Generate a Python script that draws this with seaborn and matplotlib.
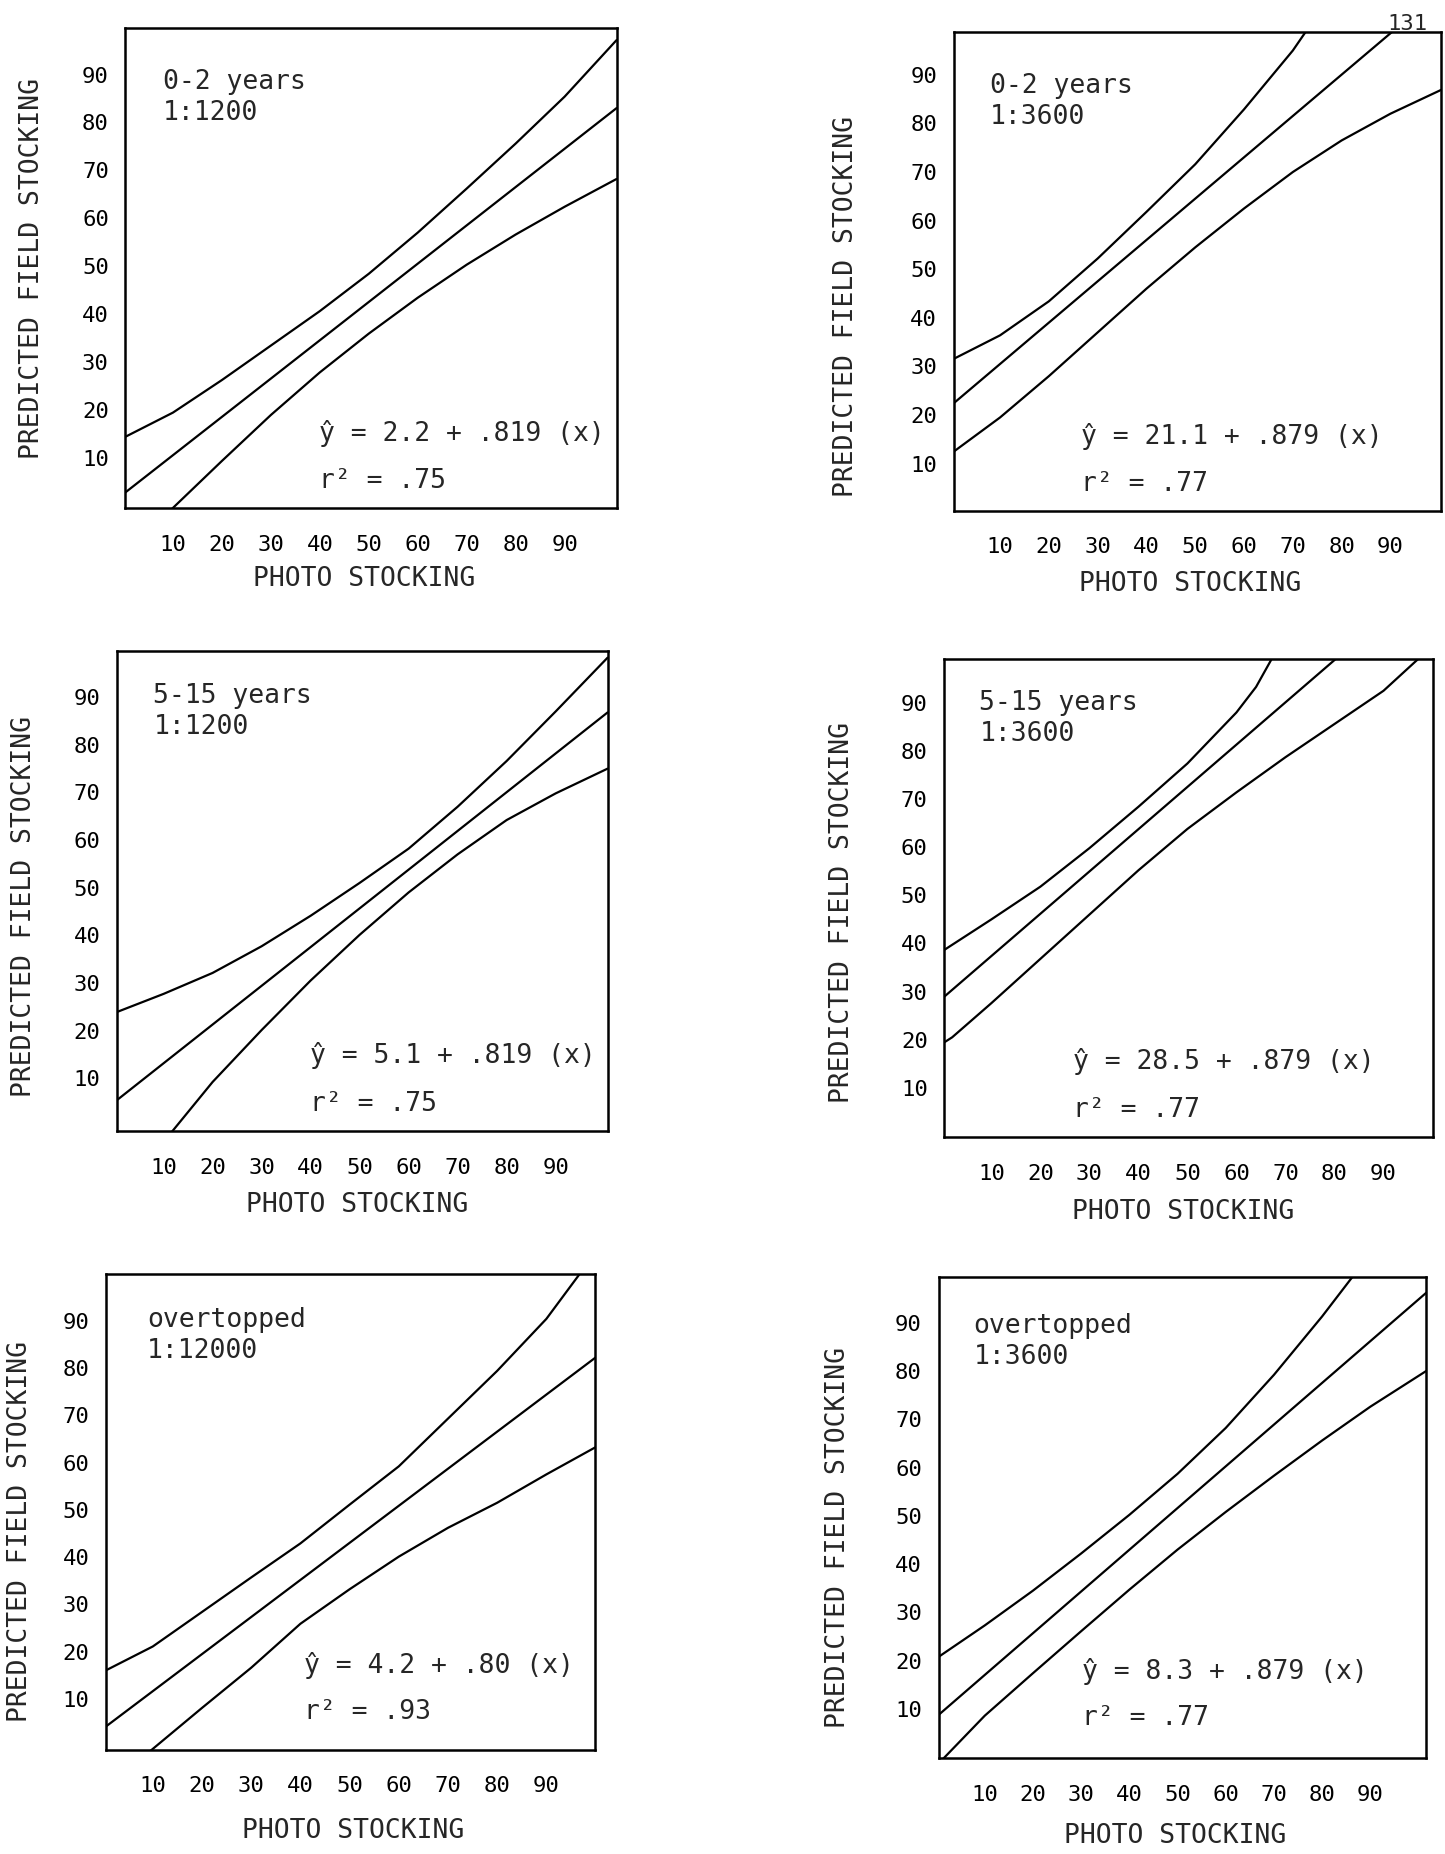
import matplotlib
matplotlib.use("Agg")
import matplotlib.pyplot as plt
import pandas as pd
import seaborn as sns

# panel texts, left to right then top to bottom
age_class = ['0-2 years', '0-2 years', '5-15 years', '5-15 years', 'overtopped', 'overtopped']
photo_scale = ['1:1200', '1:3600', '1:1200', '1:3600', '1:12000', '1:3600']
equation = ['2.2 + .819 (x)', '21.1 + .879 (x)', '5.1 + .819 (x)',
            '28.5 + .879 (x)', '4.2 + .80 (x)', '8.3 + .879 (x)']
r_squared = ['.75', '.77', '.75', '.77', '.93', '.77']
ticks = [10, 20, 30, 40, 50, 60, 70, 80, 90]

# curves (photo stocking -> predicted field stocking)
# 0-2 years, 1:1200
p1_up_x = [0, 10, 20, 30, 40, 50, 60, 70, 80, 90, 100.6]
p1_up_y = [14.2, 19.4, 26.2, 33.4, 40.6, 48.4, 57.0, 66.2, 75.6, 85.4, 97.2]
p1_fit_x = [0, 100.6]
p1_fit_y = [2.5, 83.0]
p1_lo_x = [9.5, 20, 30, 40, 50, 60, 70, 80, 90, 100.6]
p1_lo_y = [-1.0, 9.3, 18.9, 27.8, 35.9, 43.4, 50.3, 56.6, 62.4, 68.2]

# 0-2 years, 1:3600
p2_up_x = [0, 10, 20, 30, 40, 50, 60, 70, 72.6]
p2_up_y = [31.3, 36.4, 43.4, 52.2, 61.8, 71.6, 82.9, 95.0, 98.8]
p2_fit_x = [0, 90.3]
p2_fit_y = [22.0, 98.8]
p2_lo_x = [0, 10, 20, 30, 40, 50, 60, 70, 80, 90, 100.6]
p2_lo_y = [12.1, 19.5, 28.0, 37.0, 46.0, 54.5, 62.5, 70.0, 76.5, 82.0, 87.0]

# 5-15 years, 1:1200
p3_up_x = [0, 10, 20, 30, 40, 50, 60, 70, 80, 90, 100.6]
p3_up_y = [23.7, 27.7, 32.1, 37.7, 44.1, 51.0, 58.2, 67.0, 76.6, 87.0, 98.3]
p3_fit_x = [0, 100.6]
p3_fit_y = [5.0, 86.8]
p3_lo_x = [11.5, 20, 30, 40, 50, 60, 70, 80, 90, 100.6]
p3_lo_y = [-1.5, 9.2, 20.1, 30.5, 40.1, 49.0, 57.0, 64.2, 69.8, 75.0]

# 5-15 years, 1:3600
p4_up_x = [0, 10, 20, 30, 40, 50, 60, 64, 67.4]
p4_up_y = [38.4, 45.0, 51.8, 59.8, 68.4, 77.4, 88.0, 93.3, 99.5]
p4_fit_x = [0, 80.7]
p4_fit_y = [28.6, 99.5]
p4_lo_x = [0, 2, 10, 20, 30, 40, 50, 60, 70, 80, 90, 97.5]
p4_lo_y = [19.2, 20.5, 27.6, 36.8, 46.0, 55.2, 63.8, 71.4, 78.7, 85.6, 92.5, 99.5]

# overtopped, 1:12000
p5_up_x = [0, 10, 20, 30, 40, 50, 60, 70, 80, 90, 97.2]
p5_up_y = [15.8, 21.1, 28.4, 35.7, 42.9, 51.1, 59.2, 69.3, 79.4, 90.4, 100.5]
p5_fit_x = [0, 100.6]
p5_fit_y = [3.8, 82.7]
p5_lo_x = [9.5, 20, 30, 40, 50, 60, 70, 80, 90, 100.6]
p5_lo_y = [-1.0, 8.1, 16.6, 25.9, 33.2, 40.1, 46.2, 51.5, 57.5, 63.6]

# overtopped, 1:3600
p6_up_x = [0, 10, 20, 30, 40, 50, 60, 70, 80, 86.3]
p6_up_y = [20.5, 27.3, 34.5, 42.2, 50.2, 58.7, 68.2, 79.2, 91.3, 99.5]
p6_fit_x = [0, 101.6]
p6_fit_y = [8.4, 96.2]
p6_lo_x = [1.2, 10, 20, 30, 40, 50, 60, 70, 80, 90, 101.6]
p6_lo_y = [-0.5, 8.6, 17.4, 26.1, 34.7, 43.0, 50.8, 58.3, 65.6, 72.6, 80.0]

panel_curves = [
    [(p1_up_x, p1_up_y), (p1_fit_x, p1_fit_y), (p1_lo_x, p1_lo_y)],
    [(p2_up_x, p2_up_y), (p2_fit_x, p2_fit_y), (p2_lo_x, p2_lo_y)],
    [(p3_up_x, p3_up_y), (p3_fit_x, p3_fit_y), (p3_lo_x, p3_lo_y)],
    [(p4_up_x, p4_up_y), (p4_fit_x, p4_fit_y), (p4_lo_x, p4_lo_y)],
    [(p5_up_x, p5_up_y), (p5_fit_x, p5_fit_y), (p5_lo_x, p5_lo_y)],
    [(p6_up_x, p6_up_y), (p6_fit_x, p6_fit_y), (p6_lo_x, p6_lo_y)],
]

# axes extents of each scanned panel
x_left = [0.3, 0.5, 0.5, 0.4, 0.5, 0.4]
x_right = [100.7, 100.3, 100.7, 100.1, 99.9, 101.6]
y_top = [99.7, 98.8, 99.6, 99.2, 100.0, 99.5]
y_bottom = [-0.6, 0.3, -1.2, -0.3, -0.8, -0.2]

# layout (figure fractions) and text placement (axes fractions)
boxes = [
    (0.0868, 0.7258, 0.3402, 0.2590),
    (0.6600, 0.7245, 0.3370, 0.2582),
    (0.0810, 0.3897, 0.3398, 0.2589),
    (0.6535, 0.3865, 0.3382, 0.2583),
    (0.0734, 0.0561, 0.3384, 0.2570),
    (0.6495, 0.0517, 0.3375, 0.2596),
]
label_pos = [(0.077, 0.915), (0.075, 0.915), (0.074, 0.935), (0.072, 0.935), (0.084, 0.93), (0.072, 0.925)]
eq_pos = [(0.394, 0.14, 0.043), (0.262, 0.139, 0.042), (0.393, 0.143, 0.042),
          (0.264, 0.143, 0.042), (0.405, 0.162, 0.065), (0.294, 0.165, 0.069)]
xlabel_pos = [(0.486, -0.148), (0.485, -0.154), (0.488, -0.153),
              (0.488, -0.156), (0.505, -0.169), (0.486, -0.162)]
ylabel_pos = [(-0.19, 0.5), (-0.222, 0.427), (-0.19, 0.468),
              (-0.21, 0.469), (-0.176, 0.459), (-0.207, 0.459)]

sns.set_style('white')
plt.rcParams['font.family'] = ['DejaVu Sans Mono', 'DejaVu Sans']

fig = plt.figure(figsize=(14.45, 18.54), dpi=100)

for i in range(6):
    ax = fig.add_axes(boxes[i])
    rows = []
    for name, (xs, ys) in zip(['upper', 'fit', 'lower'], panel_curves[i]):
        for a, b in zip(xs, ys):
            rows.append({'curve': name, 'x': a, 'y': b})
    df = pd.DataFrame(rows)
    sns.lineplot(data=df, x='x', y='y', units='curve', estimator=None,
                 color='black', linewidth=1.6, ax=ax)

    ax.set_xlim(x_left[i], x_right[i])
    ax.set_ylim(y_bottom[i], y_top[i])
    ax.set_xticks(ticks)
    ax.set_yticks(ticks)
    ax.tick_params(axis='both', direction='out', length=8, width=1.5,
                   labelsize=16, colors='black')
    ax.tick_params(axis='x', pad=11)
    ax.tick_params(axis='y', pad=4)
    for sp in ax.spines.values():
        sp.set_visible(True)
        sp.set_linewidth(1.8)
        sp.set_color('black')

    ax.set_xlabel('PHOTO STOCKING', fontsize=19)
    ax.set_ylabel('PREDICTED FIELD STOCKING', fontsize=19)
    ax.xaxis.label.set_va('center')
    ax.yaxis.label.set_va('center')
    ax.xaxis.set_label_coords(*xlabel_pos[i])
    ax.yaxis.set_label_coords(*ylabel_pos[i])

    lx, ly = label_pos[i]
    ax.text(lx, ly, age_class[i] + '\n' + photo_scale[i], transform=ax.transAxes,
            ha='left', va='top', fontsize=19, linespacing=1.25)
    ex, ey, ry = eq_pos[i]
    ax.text(ex, ey, '\u0177 = ' + equation[i], transform=ax.transAxes,
            ha='left', va='baseline', fontsize=19)
    ax.text(ex, ry, 'r\u00b2 = ' + r_squared[i], transform=ax.transAxes,
            ha='left', va='baseline', fontsize=19)

fig.text(0.974, 0.987, '131', ha='center', va='center', fontsize=16)

fig.savefig('out.png', dpi=100, facecolor='white')
